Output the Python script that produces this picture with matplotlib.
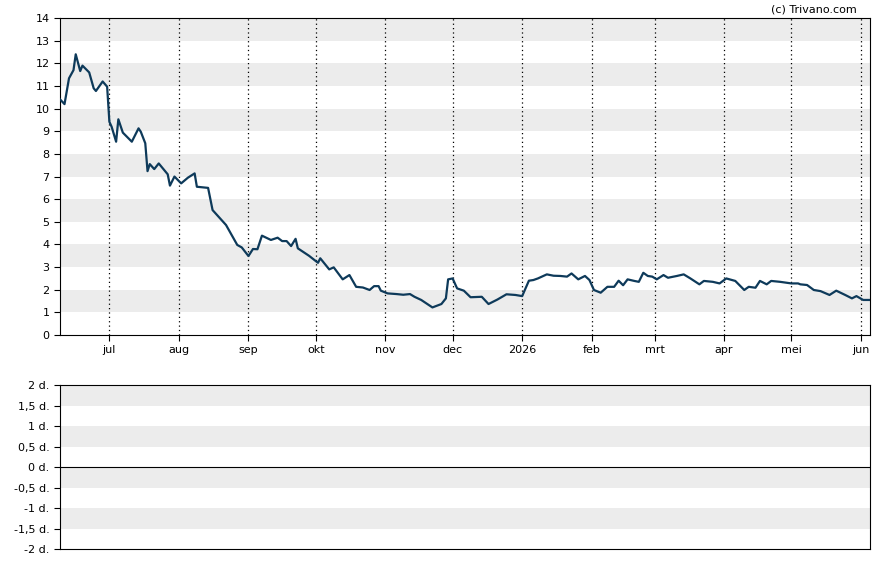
import datetime as dt

import matplotlib
matplotlib.use('Agg')
import matplotlib.pyplot as plt
import matplotlib.dates as mdates
import numpy as np

start = dt.date(2025, 6, 9)
days = [0, 2, 4, 6, 7, 9, 10, 13, 15, 16, 19, 21, 22, 23, 25, 26, 28, 32, 35, 36,
        38, 39, 40, 42, 44, 48, 49, 51, 54, 57, 60, 61, 66, 68, 74, 79, 81, 84, 86, 88,
        90, 94, 97, 99, 101, 103, 105, 106, 111, 115, 116, 120, 122, 126, 129, 132, 135, 138, 140, 142,
        143, 146, 150, 153, 156, 158, 161, 166, 170, 172, 173, 175, 177, 180, 183, 188, 191, 195, 199, 203,
        206, 209, 211, 213, 217, 220, 223, 226, 228, 231, 234, 236, 238, 241, 244, 247, 249, 251, 253, 256,
        258, 260, 262, 264, 266, 269, 271, 275, 278, 281, 285, 287, 291, 294, 297, 301, 305, 307, 310, 312,
        315, 317, 321, 326, 329, 330, 333, 336, 339, 343, 346, 350, 353, 355, 358, 361]
values = [10.41, 10.2, 11.34, 11.7, 12.4, 11.66, 11.9, 11.6, 10.9, 10.78, 11.2, 10.97, 9.42, 9.2, 8.54, 9.53, 8.94, 8.54, 9.13, 8.98,
          8.47, 7.24, 7.55, 7.33, 7.58, 7.1, 6.6, 7.0, 6.7, 6.95, 7.14, 6.55, 6.5, 5.52, 4.86, 3.98, 3.87, 3.49, 3.8, 3.79,
          4.39, 4.2, 4.3, 4.15, 4.15, 3.93, 4.25, 3.83, 3.5, 3.19, 3.39, 2.9, 2.99, 2.46, 2.65, 2.13, 2.1, 1.99, 2.16, 2.16,
          1.96, 1.84, 1.81, 1.78, 1.81, 1.69, 1.55, 1.22, 1.37, 1.62, 2.46, 2.5, 2.06, 1.96, 1.67, 1.69, 1.37, 1.57, 1.8, 1.77,
          1.72, 2.4, 2.43, 2.5, 2.68, 2.62, 2.61, 2.58, 2.72, 2.46, 2.61, 2.43, 1.99, 1.87, 2.13, 2.13, 2.4, 2.2, 2.46, 2.39,
          2.35, 2.75, 2.61, 2.58, 2.46, 2.65, 2.53, 2.61, 2.68, 2.5, 2.24, 2.39, 2.35, 2.28, 2.5, 2.39, 1.99, 2.13, 2.09, 2.39,
          2.24, 2.39, 2.35, 2.28, 2.28, 2.24, 2.21, 1.99, 1.94, 1.77, 1.96, 1.77, 1.62, 1.72, 1.55, 1.55]
month_labels = ['jul', 'aug', 'sep', 'okt', 'nov', 'dec', '2026', 'feb', 'mrt', 'apr', 'mei', 'jun']
month_starts = [dt.date(2025, m, 1) for m in range(7, 13)] + [dt.date(2026, m, 1) for m in range(1, 7)]
lower_ticks = [2, 1.5, 1, 0.5, 0, -0.5, -1, -1.5, -2]

dates = [start + dt.timedelta(days=d) for d in days]
xmin, xmax = start, dt.date(2026, 6, 5)

fig = plt.figure(figsize=(8.88, 5.65), dpi=100)
ax = fig.add_axes([0.0676, 0.407, 0.912, 0.561])
ax2 = fig.add_axes([0.0676, 0.0283, 0.912, 0.290])

for y in range(1, 14, 2):
    ax.axhspan(y, y + 1, color='#ececec', lw=0, zorder=0)
for x in month_starts:
    ax.axvline(x, color='black', ls=(0, (1, 2.5)), lw=0.9, zorder=1)
ax.plot(dates, values, color='#0e3a5a', lw=1.6, zorder=3)
ax.set_xlim(xmin, xmax)
ax.set_ylim(0, 14)
ax.set_yticks(range(0, 15))
ax.set_xticks(month_starts)
ax.set_xticklabels(month_labels)
ax.tick_params(labelsize=8, length=4)
fig.text(0.965, 0.975, '(c) Trivano.com', ha='right', va='bottom', fontsize=8)

for y in [1.5, 0.5, -0.5, -1.5]:
    ax2.axhspan(y, y + 0.5, color='#ececec', lw=0, zorder=0)
ax2.axhline(0, color='black', lw=0.8)
ax2.set_xlim(xmin, xmax)
ax2.set_ylim(-2, 2)
ax2.set_yticks(lower_ticks)
ax2.set_yticklabels([('%g d.' % t).replace('.', ',', 1) if t % 1 else '%g d.' % t for t in lower_ticks])
ax2.set_xticks([])
ax2.tick_params(labelsize=8, length=4)

fig.savefig('out.png', dpi=100)
